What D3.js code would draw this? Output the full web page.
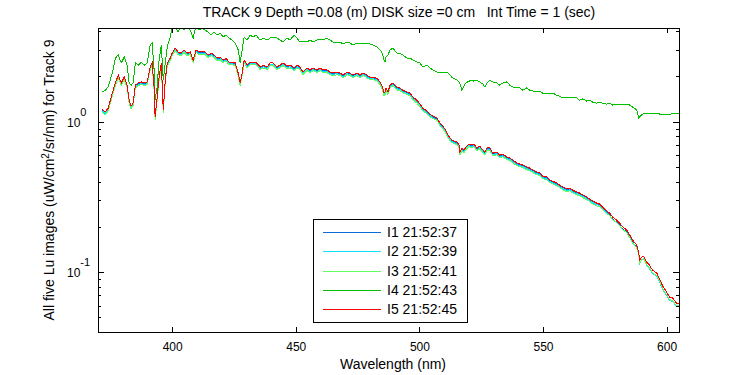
<!DOCTYPE html>
<html>
<head>
<meta charset="utf-8">
<script src="https://cdn.jsdelivr.net/npm/d3@7/dist/d3.min.js"></script>
<style>
  body { margin: 0; background: #fff; }
  text { font-family: "Liberation Sans", Arial, sans-serif; fill: #000; }
</style>
</head>
<body>
<div id="chart"></div>
<script>

// wavelength samples (nm), shared by all five images
var wavelength = [
  371.7,372.9,374.1,375.8,377.0,378.2,379.4,380.6,381.8,382.6,
  383.4,384.2,385.1,386.3,387.5,388.7,389.9,391.1,391.9,392.7,
  393.1,393.9,394.7,395.6,396.4,397.2,398.0,399.2,400.0,401.2,
  402.4,403.6,404.8,406.1,407.3,408.5,409.7,410.9,412.1,413.3,
  414.5,415.8,417.0,418.2,419.4,420.6,421.8,423.0,424.2,425.5,
  426.7,427.5,428.3,429.1,430.3,431.5,432.7,433.9,435.6,436.8,
  438.4,439.6,440.8,442.4,443.6,444.8,446.5,447.7,449.3,450.5,
  451.7,452.9,454.5,455.8,457.0,458.6,459.8,461.0,462.6,463.8,
  465.1,466.7,467.9,469.1,470.7,471.9,473.1,474.7,476.0,477.2,
  478.8,480.0,481.2,482.8,484.0,484.8,485.7,486.1,486.5,487.3,
  488.1,489.3,490.9,492.1,493.3,494.9,496.2,497.4,499.0,500.2,
  501.4,503.0,504.2,505.5,507.1,508.3,509.5,510.3,511.5,513.1,
  515.2,516.0,516.4,517.2,518.0,518.8,520.0,521.2,522.0,523.2,
  524.4,525.7,526.5,527.3,528.5,529.7,531.3,532.5,533.7,535.4,
  536.6,537.8,539.4,540.6,541.8,543.4,544.6,545.9,547.5,548.7,
  549.9,551.5,552.7,553.9,555.6,556.8,558.0,559.6,560.8,562.0,
  563.6,564.8,566.1,567.7,568.9,570.1,571.7,572.9,574.1,575.8,
  577.0,578.2,579.8,581.0,582.2,583.8,585.1,586.3,587.9,588.7,
  589.1,589.9,590.7,591.9,593.1,594.3,596.0,597.2,598.4,600.0,
  601.2,602.4,604.0,604.8
];

// Lu for each image (uW/cm^2/sr/nm)
var lu_i1 = [
  1.19,1.14,1.21,1.53,1.78,2.01,1.78,1.95,1.72,1.37,
  1.25,1.31,1.72,1.78,1.81,1.78,1.81,2.28,2.42,1.67,
  1.06,1.42,1.95,2.42,1.18,1.86,2.42,2.61,2.82,3.04,
  2.87,2.82,2.96,2.82,2.87,2.53,2.96,2.87,2.87,2.87,
  2.74,2.82,2.74,2.61,2.65,2.53,2.61,2.45,2.45,2.42,
  2.08,1.78,2.08,2.53,2.34,2.45,2.45,2.45,2.28,2.34,
  2.28,2.42,2.42,2.28,2.34,2.42,2.31,2.34,2.25,2.34,
  2.28,2.11,2.25,2.18,2.25,2.18,2.25,2.18,2.18,2.11,
  2.08,2.11,2.08,2.01,2.11,2.08,2.01,2.08,2.01,2.08,
  2.01,1.95,1.95,1.92,1.81,1.72,1.53,1.56,1.65,1.56,
  1.72,1.78,1.67,1.65,1.60,1.56,1.53,1.44,1.37,1.29,
  1.21,1.16,1.11,1.07,1.04,0.965,0.922,0.881,0.804,0.745,
  0.722,0.690,0.620,0.659,0.638,0.669,0.700,0.690,0.700,0.659,
  0.679,0.638,0.620,0.659,0.659,0.610,0.620,0.591,0.601,0.573,
  0.565,0.548,0.524,0.516,0.508,0.493,0.485,0.470,0.456,0.449,
  0.428,0.423,0.404,0.397,0.385,0.373,0.362,0.352,0.357,0.346,
  0.336,0.331,0.321,0.311,0.301,0.293,0.284,0.280,0.267,0.251,
  0.240,0.225,0.215,0.206,0.194,0.185,0.171,0.158,0.146,0.132,
  0.115,0.121,0.123,0.112,0.107,0.0989,0.0947,0.0864,0.0776,0.0708,
  0.0656,0.0646,0.0598,0.0598
];

var lu_i2 = [
  1.18,1.13,1.20,1.51,1.76,1.99,1.76,1.93,1.71,1.36,
  1.24,1.30,1.71,1.76,1.79,1.76,1.79,2.25,2.40,1.66,
  1.05,1.40,1.93,2.40,1.17,1.84,2.40,2.58,2.79,3.01,
  2.84,2.79,2.93,2.79,2.84,2.51,2.93,2.84,2.84,2.84,
  2.71,2.79,2.71,2.58,2.62,2.51,2.58,2.43,2.43,2.40,
  2.06,1.76,2.06,2.51,2.32,2.43,2.43,2.43,2.25,2.32,
  2.25,2.40,2.40,2.25,2.32,2.40,2.29,2.32,2.22,2.32,
  2.25,2.09,2.22,2.15,2.22,2.15,2.22,2.15,2.15,2.09,
  2.06,2.09,2.06,1.99,2.09,2.06,1.99,2.06,1.99,2.06,
  1.99,1.93,1.93,1.90,1.79,1.71,1.51,1.54,1.64,1.54,
  1.71,1.76,1.66,1.64,1.58,1.54,1.51,1.42,1.36,1.28,
  1.20,1.15,1.10,1.06,1.03,0.956,0.913,0.872,0.796,0.737,
  0.715,0.683,0.613,0.652,0.632,0.662,0.693,0.683,0.693,0.652,
  0.672,0.632,0.613,0.652,0.652,0.604,0.613,0.585,0.595,0.567,
  0.560,0.542,0.519,0.511,0.503,0.488,0.480,0.465,0.451,0.445,
  0.424,0.418,0.400,0.393,0.381,0.370,0.359,0.348,0.353,0.342,
  0.332,0.328,0.318,0.308,0.298,0.290,0.281,0.277,0.264,0.249,
  0.237,0.223,0.213,0.204,0.192,0.183,0.169,0.156,0.145,0.131,
  0.114,0.120,0.122,0.111,0.105,0.0979,0.0937,0.0855,0.0768,0.0700,
  0.0649,0.0639,0.0592,0.0592
];

var lu_i3 = [
  1.16,1.11,1.18,1.49,1.74,1.96,1.74,1.90,1.68,1.33,
  1.22,1.28,1.68,1.74,1.77,1.74,1.77,2.22,2.36,1.63,
  1.03,1.38,1.90,2.36,1.15,1.81,2.36,2.54,2.75,2.97,
  2.79,2.75,2.88,2.75,2.79,2.47,2.88,2.79,2.79,2.79,
  2.67,2.75,2.67,2.54,2.58,2.47,2.54,2.39,2.39,2.36,
  2.03,1.74,2.03,2.47,2.28,2.39,2.39,2.39,2.22,2.28,
  2.22,2.36,2.36,2.22,2.28,2.36,2.26,2.28,2.19,2.28,
  2.22,2.05,2.19,2.12,2.19,2.12,2.19,2.12,2.12,2.05,
  2.03,2.05,2.03,1.96,2.05,2.03,1.96,2.03,1.96,2.03,
  1.96,1.90,1.90,1.87,1.77,1.68,1.49,1.52,1.61,1.52,
  1.68,1.74,1.63,1.61,1.56,1.52,1.49,1.40,1.33,1.26,
  1.18,1.13,1.08,1.05,1.02,0.941,0.899,0.858,0.783,0.726,
  0.704,0.672,0.604,0.642,0.622,0.652,0.683,0.672,0.683,0.642,
  0.661,0.622,0.604,0.642,0.642,0.594,0.604,0.576,0.586,0.559,
  0.551,0.534,0.511,0.503,0.495,0.480,0.472,0.458,0.444,0.438,
  0.418,0.412,0.394,0.387,0.375,0.364,0.353,0.343,0.348,0.337,
  0.327,0.323,0.313,0.303,0.294,0.285,0.276,0.273,0.260,0.245,
  0.237,0.223,0.213,0.204,0.192,0.183,0.169,0.156,0.145,0.131,
  0.115,0.121,0.123,0.112,0.107,0.0989,0.0947,0.0864,0.0776,0.0708,
  0.0656,0.0646,0.0598,0.0598
];

var lu_i4 = [
  1.58,1.62,1.70,2.11,2.65,2.78,2.46,2.69,2.38,1.81,
  1.75,1.81,2.46,2.38,2.49,2.38,2.46,3.24,3.34,2.21,
  1.39,1.70,2.57,3.24,1.89,2.46,3.14,3.66,4.20,4.26,
  3.95,4.40,4.07,4.26,4.07,3.60,4.40,4.07,4.20,4.07,
  3.95,3.77,3.95,3.77,3.89,3.66,3.77,3.60,3.49,3.34,
  3.00,2.46,3.00,3.66,3.49,3.77,3.66,3.77,3.49,3.60,
  3.49,3.60,3.66,3.60,3.49,3.39,3.60,3.49,3.77,3.60,
  3.39,3.39,3.39,3.49,3.39,3.49,3.55,3.49,3.60,3.49,
  3.39,3.34,3.39,3.29,3.39,3.34,3.24,3.34,3.29,3.34,
  3.29,3.29,3.24,3.14,3.00,2.91,2.57,2.49,2.69,2.78,
  3.00,3.09,2.86,2.86,2.78,2.65,2.65,2.57,2.49,2.46,
  2.31,2.38,2.28,2.21,2.14,2.11,2.14,2.14,2.11,1.98,
  1.89,1.84,1.78,1.62,1.73,1.81,1.86,1.89,1.86,1.89,
  1.84,1.78,1.70,1.81,1.89,1.84,1.81,1.75,1.81,1.84,
  1.75,1.70,1.68,1.68,1.62,1.68,1.62,1.60,1.58,1.60,
  1.55,1.55,1.55,1.55,1.50,1.48,1.44,1.46,1.46,1.46,
  1.44,1.39,1.42,1.37,1.39,1.35,1.33,1.35,1.33,1.31,
  1.33,1.29,1.31,1.31,1.31,1.31,1.29,1.25,1.20,1.06,
  1.075,1.11,1.14,1.14,1.14,1.14,1.14,1.125,1.125,1.125,
  1.11,1.14,1.14,1.14
];

var lu_i5 = [
  1.21,1.16,1.23,1.55,1.81,2.04,1.81,1.98,1.75,1.39,
  1.27,1.33,1.75,1.81,1.84,1.81,1.84,2.31,2.46,1.70,
  1.075,1.44,1.98,2.46,1.20,1.89,2.46,2.65,2.86,3.09,
  2.91,2.86,3.00,2.86,2.91,2.57,3.00,2.91,2.91,2.91,
  2.78,2.86,2.78,2.65,2.69,2.57,2.65,2.49,2.49,2.46,
  2.11,1.81,2.11,2.57,2.38,2.49,2.49,2.49,2.31,2.38,
  2.31,2.46,2.46,2.31,2.38,2.46,2.35,2.38,2.28,2.38,
  2.31,2.14,2.28,2.21,2.28,2.21,2.28,2.21,2.21,2.14,
  2.11,2.14,2.11,2.04,2.14,2.11,2.04,2.11,2.04,2.11,
  2.04,1.98,1.98,1.95,1.84,1.75,1.55,1.58,1.68,1.58,
  1.75,1.81,1.70,1.68,1.62,1.58,1.55,1.46,1.39,1.31,
  1.23,1.18,1.125,1.09,1.06,0.980,0.936,0.894,0.816,0.756,
  0.733,0.700,0.629,0.669,0.648,0.679,0.711,0.700,0.711,0.669,
  0.689,0.648,0.629,0.669,0.669,0.619,0.629,0.600,0.610,0.582,
  0.574,0.556,0.532,0.524,0.516,0.500,0.492,0.477,0.463,0.456,
  0.435,0.429,0.410,0.403,0.391,0.379,0.368,0.357,0.362,0.351,
  0.341,0.336,0.326,0.316,0.306,0.297,0.288,0.284,0.271,0.255,
  0.247,0.232,0.222,0.212,0.200,0.191,0.176,0.163,0.151,0.136,
  0.120,0.126,0.128,0.117,0.111,0.103,0.0986,0.0900,0.0808,0.0737,
  0.0683,0.0673,0.0623,0.0623
];

// legend labels and line colours, in drawing order (red ends up on top)
var series_names = ["I1 21:52:37", "I2 21:52:39", "I3 21:52:41", "I4 21:52:43", "I5 21:52:45"];
var series_colors = ["#0a6ad8", "#10e0ff", "#60ff60", "#00c000", "#ff0000"];
var series_values = [lu_i1, lu_i2, lu_i3, lu_i4, lu_i5];

// axis ticks
var x_ticks = [400, 450, 500, 550, 600];
var y_major = [0.1, 1];
var y_labels = ["-1", "0"];

// plot box
var margin = {top: 28, right: 71, bottom: 43, left: 98},
    width = 750 - margin.left - margin.right,
    height = 375 - margin.top - margin.bottom;

var svg = d3.select("#chart").append("svg")
    .attr("width", 750)
    .attr("height", 375);

var g = svg.append("g")
    .attr("transform", "translate(" + margin.left + "," + margin.top + ")");

var x = d3.scaleLinear().domain([370, 605]).range([0, width]);
var y = d3.scaleLog().domain([0.04, 4.2]).range([height, 0]);

// minor ticks of the log axis
var y_minor = y.ticks().filter(function(v) {
  return y_major.indexOf(v) < 0;
});

g.append("clipPath").attr("id", "plot-clip")
  .append("rect").attr("width", width).attr("height", height);

// curves
var line = d3.line()
    .x(function(d) { return x(d[0]); })
    .y(function(d) { return y(d[1]); });

series_values.forEach(function(vals, i) {
  var pts = wavelength.map(function(w, k) { return [w, vals[k]]; });
  g.append("path")
    .datum(pts)
    .attr("clip-path", "url(#plot-clip)")
    .attr("fill", "none")
    .attr("stroke", series_colors[i])
    .attr("stroke-width", 1)
    .attr("shape-rendering", "crispEdges")
    .attr("d", line);
});

// ticks pointing inward on all four sides
function style_axis(sel) {
  sel.select(".domain").remove();
  sel.selectAll(".tick line").attr("stroke", "#000").attr("shape-rendering", "crispEdges");
  sel.selectAll("text").style("font-size", "12px").attr("fill", "#000")
     .style("font-family", "'Liberation Sans', Arial, sans-serif");
}

g.append("g").attr("transform", "translate(0," + height + ")")
  .call(d3.axisBottom(x).tickValues(x_ticks).tickSize(-5).tickPadding(10))
  .call(style_axis);
g.append("g")
  .call(d3.axisTop(x).tickValues(x_ticks).tickSize(-5).tickFormat(""))
  .call(style_axis);

[[d3.axisLeft, 0], [d3.axisRight, width]].forEach(function(a) {
  g.append("g").attr("transform", "translate(" + a[1] + ",0)")
    .call(a[0](y).tickValues(y_major).tickSize(-6).tickFormat(""))
    .call(style_axis);
  g.append("g").attr("transform", "translate(" + a[1] + ",0)")
    .call(a[0](y).tickValues(y_minor).tickSize(-3).tickFormat(""))
    .call(style_axis);
});

// box
g.append("rect")
  .attr("x", 0.5).attr("y", 0.5)
  .attr("width", width).attr("height", height)
  .attr("fill", "none").attr("stroke", "#000")
  .attr("shape-rendering", "crispEdges");

// 10^n labels
y_major.forEach(function(v, i) {
  var t = g.append("text")
    .attr("x", -31)
    .attr("y", y(v) + 5)
    .style("font-size", "12px");
  t.append("tspan").text("10");
  t.append("tspan").attr("dy", -11).style("font-size", "11px").text(y_labels[i]);
});

// title and axis labels
svg.append("text")
  .attr("x", 399).attr("y", 17)
  .attr("text-anchor", "middle")
  .style("font-size", "14px")
  .text("TRACK 9 Depth =0.08 (m) DISK size =0 cm \u00a0 Int Time = 1 (sec)");

svg.append("text")
  .attr("x", 393).attr("y", 369)
  .attr("text-anchor", "middle")
  .style("font-size", "14px")
  .text("Wavelength (nm)");

var ylab = svg.append("text")
  .attr("transform", "translate(54," + (margin.top + height / 2) + ") rotate(-90)")
  .attr("text-anchor", "middle")
  .style("font-size", "14px");
ylab.append("tspan").text("All five Lu images (uW/cm");
ylab.append("tspan").attr("dy", -5).style("font-size", "10px").text("2");
ylab.append("tspan").attr("dy", 5).text("/sr/nm) for Track 9");

// legend
var legend = svg.append("g").attr("transform", "translate(313,219)");
legend.append("rect")
  .attr("x", 0.5).attr("y", 0.5)
  .attr("width", 154).attr("height", 103)
  .attr("fill", "#fff").attr("stroke", "#000")
  .attr("shape-rendering", "crispEdges");

series_names.forEach(function(name, i) {
  var yy = 13 + i * 19.3;
  legend.append("line")
    .attr("x1", 10).attr("x2", 68)
    .attr("y1", Math.round(yy) + 0.5).attr("y2", Math.round(yy) + 0.5)
    .attr("stroke", series_colors[i]);
  legend.append("text")
    .attr("x", 74).attr("y", yy + 5)
    .style("font-size", "14px")
    .text(name);
});

</script>
</body>
</html>
